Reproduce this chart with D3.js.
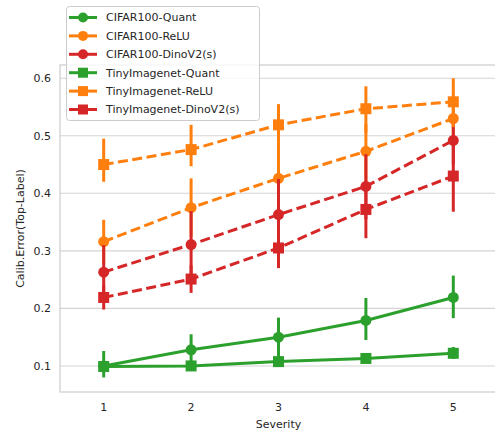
<!DOCTYPE html>
<meta charset="utf-8">
<script src="https://d3js.org/d3.v7.min.js"></script>
<style>
  body { margin: 0; background: #fff; }
  text { font-family: "DejaVu Sans", sans-serif; fill: #262626; }
</style>
<div id="my_dataviz"></div>
<script>

// data
var severities = ["1", "2", "3", "4", "5"]
var yTicks = [0.1, 0.2, 0.3, 0.4, 0.5, 0.6]

var seriesNames = ["CIFAR100-Quant", "CIFAR100-ReLU", "CIFAR100-DinoV2(s)",
                   "TinyImagenet-Quant", "TinyImagenet-ReLU", "TinyImagenet-DinoV2(s)"]

var cifarQuant   = [0.100, 0.128, 0.150, 0.179, 0.219]
var cifarQuantLo = [0.080, 0.105, 0.115, 0.145, 0.183]
var cifarQuantHi = [0.126, 0.155, 0.184, 0.218, 0.257]

var cifarRelu   = [0.316, 0.375, 0.426, 0.473, 0.530]
var cifarReluLo = [0.278, 0.325, 0.360, 0.420, 0.490]
var cifarReluHi = [0.354, 0.426, 0.490, 0.520, 0.570]

var cifarDino   = [0.263, 0.311, 0.363, 0.412, 0.492]
var cifarDinoLo = [0.215, 0.255, 0.300, 0.355, 0.450]
var cifarDinoHi = [0.310, 0.369, 0.425, 0.468, 0.525]

var tinyQuant   = [0.099, 0.100, 0.1075, 0.113, 0.122]
var tinyQuantLo = [0.090, 0.093, 0.101, 0.106, 0.112]
var tinyQuantHi = [0.108, 0.108, 0.114, 0.120, 0.133]

var tinyRelu   = [0.450, 0.476, 0.519, 0.547, 0.559]
var tinyReluLo = [0.420, 0.447, 0.480, 0.505, 0.515]
var tinyReluHi = [0.495, 0.519, 0.555, 0.586, 0.600]

var tinyDino   = [0.219, 0.251, 0.305, 0.372, 0.430]
var tinyDinoLo = [0.198, 0.227, 0.270, 0.322, 0.368]
var tinyDinoHi = [0.240, 0.275, 0.340, 0.420, 0.490]

var means = [cifarQuant, cifarRelu, cifarDino, tinyQuant, tinyRelu, tinyDino]
var lows  = [cifarQuantLo, cifarReluLo, cifarDinoLo, tinyQuantLo, tinyReluLo, tinyDinoLo]
var highs = [cifarQuantHi, cifarReluHi, cifarDinoHi, tinyQuantHi, tinyReluHi, tinyDinoHi]

var colors  = ["#2ca02c", "#ff7f0e", "#d62728", "#2ca02c", "#ff7f0e", "#d62728"]
var shapes  = ["circle", "circle", "circle", "square", "square", "square"]
var dashed  = [false, true, true, false, true, true]

var width = 495
var height = 435
var plotLeft = 60, plotRight = 497, plotTop = 65, plotBottom = 392

var svg = d3.select("#my_dataviz")
  .append("svg")
    .attr("width", width)
    .attr("height", height)

// categorical axis like seaborn: -0.5 .. n-0.5
var x = d3.scaleLinear()
  .domain([-0.5, severities.length - 0.5])
  .range([plotLeft, plotRight])

var y = d3.scaleLinear()
  .domain([0.0547, 0.623])
  .range([plotBottom, plotTop])

// grid
svg.append("g")
  .selectAll("line")
  .data(yTicks)
  .enter()
  .append("line")
    .attr("x1", plotLeft).attr("x2", plotRight)
    .attr("y1", function(d){ return y(d) }).attr("y2", function(d){ return y(d) })
    .style("stroke", "#d4d4d4")
    .style("stroke-width", 1.1)

// frame
svg.append("rect")
  .attr("x", plotLeft).attr("y", plotTop)
  .attr("width", plotRight - plotLeft).attr("height", plotBottom - plotTop)
  .style("fill", "none")
  .style("stroke", "#cccccc")
  .style("stroke-width", 1.2)

// tick labels
svg.append("g")
  .selectAll("text")
  .data(yTicks)
  .enter()
  .append("text")
    .attr("x", 51)
    .attr("y", function(d){ return y(d) })
    .attr("dy", "0.35em")
    .attr("text-anchor", "end")
    .style("font-size", "11px")
    .text(function(d){ return d3.format(".1f")(d) })

svg.append("g")
  .selectAll("text")
  .data(severities)
  .enter()
  .append("text")
    .attr("x", function(d, i){ return x(i) })
    .attr("y", 411)
    .attr("text-anchor", "middle")
    .style("font-size", "11px")
    .text(function(d){ return d })

svg.append("text")
  .attr("x", x(2))
  .attr("y", 428)
  .attr("text-anchor", "middle")
  .style("font-size", "11px")
  .text("Severity")

svg.append("text")
  .attr("transform", "translate(24," + ((plotTop + plotBottom) / 2) + ") rotate(-90)")
  .attr("text-anchor", "middle")
  .style("font-size", "11px")
  .text("Calib.Error(Top-Label)")

function drawMarker(g, shape, cx, cy, color, size) {
  if (shape == "circle") {
    g.append("circle")
      .attr("cx", cx).attr("cy", cy).attr("r", size / 2)
      .style("fill", color)
  } else {
    g.append("rect")
      .attr("x", cx - size / 2).attr("y", cy - size / 2)
      .attr("width", size).attr("height", size)
      .style("fill", color)
  }
}

var line = d3.line()
  .x(function(d, i){ return x(i) })
  .y(function(d){ return y(d) })

// series, in legend order
means.forEach(function(vals, s) {
  var g = svg.append("g")
  g.append("path")
    .datum(vals)
    .attr("d", line)
    .style("fill", "none")
    .style("stroke", colors[s])
    .style("stroke-width", 3)
    .style("stroke-dasharray", dashed[s] ? "10,4.5" : null)

  g.selectAll(".err")
    .data(vals)
    .enter()
    .append("line")
      .attr("x1", function(d, i){ return x(i) })
      .attr("x2", function(d, i){ return x(i) })
      .attr("y1", function(d, i){ return y(lows[s][i]) })
      .attr("y2", function(d, i){ return y(highs[s][i]) })
      .style("stroke", colors[s])
      .style("stroke-width", 3)

  vals.forEach(function(v, i) {
    drawMarker(g, shapes[s], x(i), y(v), colors[s], 11)
  })
})

// legend
var legend = svg.append("g")
legend.append("rect")
  .attr("x", 66.5).attr("y", 6.5)
  .attr("width", 193).attr("height", 114)
  .attr("rx", 3)
  .style("fill", "white")
  .style("fill-opacity", 0.8)
  .style("stroke", "#cccccc")
  .style("stroke-width", 1)

seriesNames.forEach(function(name, s) {
  var ly = 17.5 + s * 18.4
  legend.append("line")
    .attr("x1", 69).attr("x2", 97)
    .attr("y1", ly).attr("y2", ly)
    .style("stroke", colors[s])
    .style("stroke-width", 3)
  drawMarker(legend, shapes[s], 83, ly, colors[s], 10)
  legend.append("text")
    .attr("x", 106)
    .attr("y", ly)
    .attr("dy", "0.35em")
    .style("font-size", "11px")
    .text(name)
})

</script>
